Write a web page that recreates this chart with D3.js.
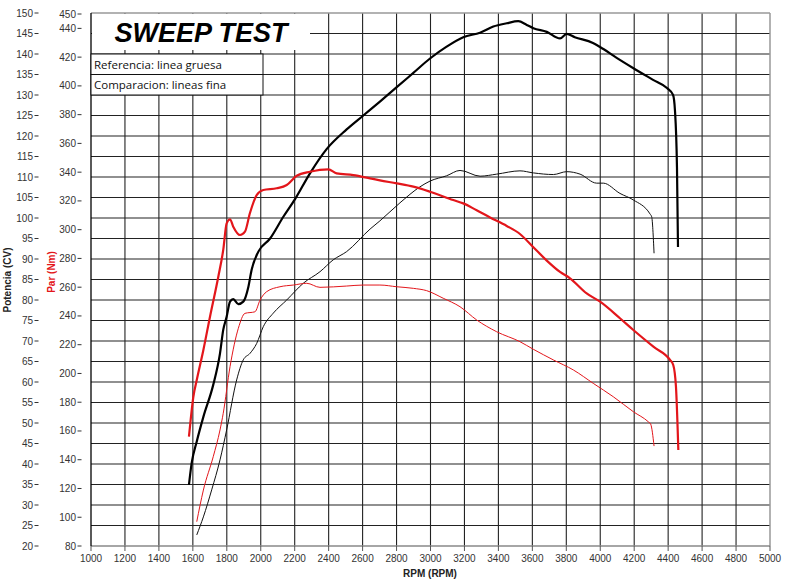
<!DOCTYPE html>
<html><head><meta charset="utf-8">
<script src="https://cdn.jsdelivr.net/npm/d3@7"></script>
<style>html,body{margin:0;padding:0;background:#fff;}svg{display:block;}</style>
</head><body>
<svg id="chart" width="786" height="580"></svg>
<script>
// ---- data ----
const rpmTicks = [1000,1200,1400,1600,1800,2000,2200,2400,2600,2800,3000,3200,3400,3600,3800,4000,4200,4400,4600,4800,5000];
const powerTicks = [20,25,30,35,40,45,50,55,60,65,70,75,80,85,90,95,100,105,110,115,120,125,130,135,140,145,150];
const torqueTicks = [80,100,120,140,160,180,200,220,240,260,280,300,320,340,360,380,400,420,440,450];

// Reference (thick) power, CV
const refPowerRpm = [1577,1593,1623,1662,1720,1760,1779,1799,1819,1838,1868,1897,1927,1946,1986,2055,2133,2202,2290,2388,2506,2604,2702,2801,2899,2997,3095,3193,3292,3370,3449,3517,3567,3606,3685,3763,3802,3850,3957,3999,4099,4193,4311,4393,4429,4440,4452,4458];
const refPower = [34.9,40.2,45.5,51.5,59.3,67.0,72.7,75.9,79.6,80.2,79.0,79.6,83.2,87.3,91.8,95.0,100.3,104.6,110.9,116.8,121.6,125.0,128.4,131.9,135.4,138.9,141.8,144.1,145.2,146.7,147.5,148.0,147.1,146.3,145.4,143.8,144.9,144.1,142.7,141.7,139.0,136.6,133.7,131.7,130.0,126.3,112.4,92.9];

// Reference (thick) torque, Nm
const refTorqueRpm = [1577,1587,1603,1623,1662,1701,1750,1779,1799,1819,1838,1878,1907,1936,1976,2015,2094,2153,2212,2290,2398,2447,2545,2644,2702,2801,2899,2997,3134,3193,3272,3351,3449,3527,3606,3685,3763,3822,3920,3999,4116,4195,4313,4411,4430,4446,4460];
const refTorque = [156.0,167.6,183.8,195.4,216.3,239.5,267.3,285.9,304.4,307.2,302.1,296.3,298.6,311.4,324.1,327.6,328.8,331.1,337.5,340.3,342.0,339.2,338.0,335.7,334.3,332.2,329.9,326.4,320.6,318.3,313.5,308.5,302.6,297.0,287.8,278.5,270.6,266.2,255.7,249.9,238.4,230.2,218.6,209.4,205.9,190.8,146.8];

// Comparison (thin) power, CV
const cmpPowerRpm = [1623,1662,1711,1760,1799,1858,1897,1937,1976,2015,2074,2153,2251,2349,2427,2506,2644,2702,2820,2938,2997,3095,3174,3292,3390,3527,3606,3724,3802,3881,3979,4018,4116,4195,4293,4303,4317];
const cmpPower = [22.7,27.1,33.7,41.0,48.3,60.5,65.4,67.0,69.4,73.5,76.8,80.0,84.1,86.9,89.8,91.8,97.3,99.3,103.7,107.6,109.0,110.3,111.6,110.2,110.7,111.5,111.0,110.6,111.3,110.7,108.5,108.5,106.0,104.4,101.0,100.3,91.4];

// Comparison (thin) torque, Nm
const cmpTorqueRpm = [1623,1662,1720,1760,1779,1819,1868,1907,1966,1996,2035,2113,2192,2271,2349,2506,2604,2702,2801,2899,2977,3075,3174,3272,3390,3527,3606,3724,3842,3959,4077,4195,4283,4297,4317];
const cmpTorque = [96.9,118.9,142.1,160.7,172.3,204.7,231.4,241.8,242.9,251.1,256.9,260.3,261.5,262.7,259.9,260.8,261.5,261.5,260.3,259.2,257.6,252.3,246.4,237.2,229.0,222.1,216.8,209.4,202.4,193.1,183.8,173.4,166.4,164.8,149.5];

const titleText = "SWEEP TEST";
const legendLines = ["Referencia: linea gruesa", "Comparacion: lineas fina"];

// ---- drawing ----
const svg = d3.select("#chart");
const L = 91, R = 770, T = 13, B = 546;
const x = d3.scaleLinear().domain([1000,5000]).range([L,R]);
const yP = d3.scaleLinear().domain([20,150]).range([B,T]);
const yT = d3.scaleLinear().domain([80,450]).range([B,14]);
const RED = "#e3161b";
const TXT = "#333";

// grid
const grid = svg.append("g");
grid.selectAll("line.h").data(powerTicks.filter(v => v>20 && v<150)).join("line")
  .attr("x1", L).attr("x2", R).attr("y1", d=>yP(d)).attr("y2", d=>yP(d))
  .attr("stroke", "#222").attr("stroke-width", 1.1);
grid.selectAll("line.v").data(rpmTicks.filter(v => v>1000 && v<5000)).join("line")
  .attr("x1", d=>x(d)).attr("x2", d=>x(d)).attr("y1", T).attr("y2", B)
  .attr("stroke", "#222").attr("stroke-width", 1.1);
// borders
svg.append("line").attr("x1",L).attr("x2",R).attr("y1",T).attr("y2",T).attr("stroke","#999").attr("stroke-width",1.5);
svg.append("line").attr("x1",R).attr("x2",R).attr("y1",T).attr("y2",B).attr("stroke","#999").attr("stroke-width",1.5);
svg.append("line").attr("x1",L).attr("x2",R).attr("y1",B).attr("y2",B).attr("stroke","#888").attr("stroke-width",1.5);
svg.append("line").attr("x1",L).attr("x2",L).attr("y1",T).attr("y2",B).attr("stroke","#000").attr("stroke-width",1.3);

// x axis ticks and labels
const xa = svg.append("g");
xa.selectAll("line").data(rpmTicks).join("line")
  .attr("x1", d=>x(d)).attr("x2", d=>x(d)).attr("y1", B).attr("y2", B+5)
  .attr("stroke", "#555").attr("stroke-width", 1);
xa.selectAll("text").data(rpmTicks).join("text")
  .attr("x", d=>x(d)).attr("y", 562).attr("text-anchor","middle")
  .attr("font-family","Liberation Sans, Arial, sans-serif").attr("font-size",10).attr("fill",TXT)
  .text(d=>d);
svg.append("text").attr("x", 430).attr("y", 577).attr("text-anchor","middle")
  .attr("font-family","Liberation Sans, Arial, sans-serif").attr("font-size",10).attr("font-weight","bold").attr("fill","#222")
  .text("RPM (RPM)");

// power axis
const pa = svg.append("g");
pa.selectAll("text").data(powerTicks).join("text")
  .attr("x", 33).attr("y", d=>yP(d)+3.5).attr("text-anchor","end")
  .attr("font-family","Liberation Sans, Arial, sans-serif").attr("font-size",10).attr("fill",TXT)
  .text(d=>d);
pa.selectAll("line").data(powerTicks).join("line")
  .attr("x1", 34.5).attr("x2", 38.5).attr("y1", d=>yP(d)).attr("y2", d=>yP(d))
  .attr("stroke", TXT).attr("stroke-width", 1);
svg.append("text").attr("transform","translate(11,280) rotate(-90)").attr("text-anchor","middle")
  .attr("font-family","Liberation Sans, Arial, sans-serif").attr("font-size",10).attr("font-weight","bold").attr("fill","#222")
  .text("Potencia (CV)");

// torque axis
const ta = svg.append("g");
ta.selectAll("text").data(torqueTicks).join("text")
  .attr("x", 76).attr("y", d=>yT(d)+3.5).attr("text-anchor","end")
  .attr("font-family","Liberation Sans, Arial, sans-serif").attr("font-size",10).attr("fill",TXT)
  .text(d=>d);
ta.selectAll("line").data(torqueTicks).join("line")
  .attr("x1", 77.5).attr("x2", 81.5).attr("y1", d=>yT(d)).attr("y2", d=>yT(d))
  .attr("stroke", TXT).attr("stroke-width", 1);
svg.append("text").attr("transform","translate(55,272) rotate(-90)").attr("text-anchor","middle")
  .attr("font-family","Liberation Sans, Arial, sans-serif").attr("font-size",10).attr("font-weight","bold").attr("fill",RED)
  .text("Par (Nm)");

// title box
svg.append("rect").attr("x", L+1).attr("y", T+1).attr("width", 310-L-1).attr("height", 50-T-1).attr("fill","#fff");
svg.append("text").attr("x", 201).attr("y", 42).attr("text-anchor","middle")
  .attr("font-family","Liberation Sans, Arial, sans-serif").attr("font-size",27).attr("font-weight","bold").attr("font-style","italic").attr("fill","#000")
  .text(titleText);

// legend boxes
const lg = svg.append("g");
legendLines.forEach((t,i) => {
  const y0 = yP(140 - 5*i), y1 = yP(135 - 5*i);
  lg.append("rect").attr("x", L).attr("y", y0).attr("width", 263-L).attr("height", y1-y0)
    .attr("fill","#fff").attr("stroke","#111").attr("stroke-width",1);
  lg.append("text").attr("x", L+3).attr("y", y1-6).attr("font-family","Open Sans, Noto Sans, sans-serif")
    .attr("font-size",11.5).attr("fill","#111").text(t);
});

// curves
function draw(rpms, vals, yScale, color, width) {
  const pts = rpms.map((r,i)=>[r, vals[i]]);
  const line = d3.line().x(d=>x(d[0])).y(d=>yScale(d[1])).curve(d3.curveMonotoneX);
  svg.append("path").attr("d", line(pts)).attr("fill","none").attr("stroke",color)
    .attr("stroke-width",width).attr("stroke-linejoin","round").attr("stroke-linecap","butt");
}
draw(cmpPowerRpm, cmpPower, yP, "#111", 1);
draw(cmpTorqueRpm, cmpTorque, yT, RED, 1);
draw(refPowerRpm, refPower, yP, "#000", 2.2);
draw(refTorqueRpm, refTorque, yT, RED, 2.2);
</script>
</body></html>
